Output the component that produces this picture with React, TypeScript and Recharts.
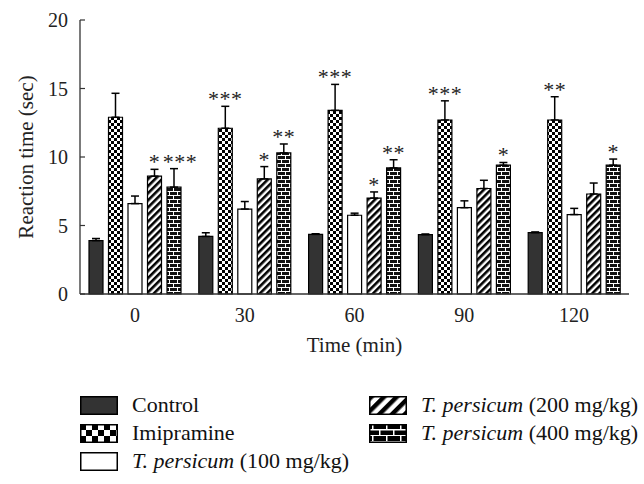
import { BarChart, Bar, XAxis, YAxis, ErrorBar, LabelList, Legend } from "recharts";

const FONT = '"Liberation Serif", "DejaVu Serif", serif';

const times = ["0", "30", "60", "90", "120"];
const control = [3.9, 4.2, 4.35, 4.33, 4.48];
const controlErr = [0.15, 0.27, 0.05, 0.05, 0.05];
const imipramine = [12.9, 12.1, 13.4, 12.7, 12.7];
const imipramineErr = [1.75, 1.6, 1.9, 1.4, 1.7];
const tp100 = [6.6, 6.2, 5.75, 6.3, 5.8];
const tp100Err = [0.55, 0.55, 0.15, 0.5, 0.45];
const tp200 = [8.6, 8.4, 7.0, 7.7, 7.3];
const tp200Err = [0.5, 0.9, 0.45, 0.6, 0.8];
const tp400 = [7.8, 10.3, 9.2, 9.4, 9.4];
const tp400Err = [1.35, 0.65, 0.6, 0.2, 0.45];
const imipramineStars = ["", "***", "***", "***", "**"];
const tp200Stars = ["*", "*", "*", "", ""];
const tp400Stars = ["***", "**", "**", "*", "*"];
const yTicks = [0, 5, 10, 15, 20];

const data = times.map((t, i) => ({
  time: t,
  control: control[i],
  controlErr: [0, controlErr[i]],
  imipramine: imipramine[i],
  imipramineErr: [0, imipramineErr[i]],
  tp100: tp100[i],
  tp100Err: [0, tp100Err[i]],
  tp200: tp200[i],
  tp200Err: [0, tp200Err[i]],
  tp400: tp400[i],
  tp400Err: [0, tp400Err[i]],
}));

// stars sit just above the error whisker; nudge right when the bar to the left is also starred
const starLabel = (vals: number[], errs: number[], stars: string[], leftStars?: string[]) => (props: any) => {
  const vb = props.viewBox || props;
  const x = vb.x ?? props.x;
  const y = vb.y ?? props.y;
  const w = vb.width ?? props.width;
  const h = vb.height ?? props.height;
  const i = props.index;
  const s = stars[i];
  if (!s) return null;
  const k = h / vals[i];
  const top = y - errs[i] * k;
  const nudge = leftStars && leftStars[i] && s.length > 2 ? 6 : 0;
  return (
    <text
      x={x + w / 2 + nudge}
      y={top}
      textAnchor="middle"
      fontFamily={FONT}
      fontSize={22}
      letterSpacing={0.5}
      fill="#222"
    >
      {s}
    </text>
  );
};

const YTick = (props: any) => {
  const { x, y, payload } = props;
  return (
    <g>
      <line x1={x + 12} x2={x + 17} y1={y} y2={y} stroke="#333" strokeWidth={1.2} />
      <text x={x} y={y} dy="0.35em" textAnchor="end" fontFamily={FONT} fontSize={20} fill="#222">
        {payload.value}
      </text>
    </g>
  );
};

const LegendIcon = ({ kind }: { kind: string }) => {
  const id = "lg-" + kind;
  let fill = "#333";
  let defs = null;
  if (kind === "imipramine") {
    fill = `url(#${id})`;
    defs = (
      <pattern id={id} width={12} height={12} patternUnits="userSpaceOnUse">
        <rect width={12} height={12} fill="#fff" />
        <rect width={6} height={6} fill="#000" />
        <rect x={6} y={6} width={6} height={6} fill="#000" />
      </pattern>
    );
  } else if (kind === "tp100") {
    fill = "#fff";
  } else if (kind === "tp200") {
    fill = `url(#${id})`;
    defs = (
      <pattern id={id} width={9} height={9} patternUnits="userSpaceOnUse" patternTransform="rotate(45)">
        <rect width={9} height={9} fill="#fff" />
        <rect width={4.5} height={9} fill="#000" />
      </pattern>
    );
  } else if (kind === "tp400") {
    fill = `url(#${id})`;
    defs = (
      <pattern id={id} width={14} height={12} patternUnits="userSpaceOnUse">
        <rect width={14} height={12} fill="#000" />
        <rect y={5} width={14} height={1.5} fill="#fff" />
        <rect y={11} width={14} height={1.5} fill="#fff" />
        <rect x={3} y={0} width={1.5} height={6} fill="#fff" />
        <rect x={10} y={6} width={1.5} height={6} fill="#fff" />
      </pattern>
    );
  }
  return (
    <svg width={38} height={19} style={{ display: "block" }}>
      {defs && <defs>{defs}</defs>}
      <rect x={0.75} y={0.75} width={36.5} height={17.5} fill={fill} stroke="#000" strokeWidth={1.5} />
    </svg>
  );
};

const Name = ({ label }: { label: string }) => {
  if (label.startsWith("T. persicum")) {
    return (
      <span>
        <i>T. persicum</i>
        {label.slice("T. persicum".length)}
      </span>
    );
  }
  return <span>{label}</span>;
};

const legendCols = [
  [
    { kind: "control", label: "Control" },
    { kind: "imipramine", label: "Imipramine" },
    { kind: "tp100", label: "T. persicum (100 mg/kg)" },
  ],
  [
    { kind: "tp200", label: "T. persicum (200 mg/kg)" },
    { kind: "tp400", label: "T. persicum (400 mg/kg)" },
  ],
];

const renderLegend = () => (
  <div style={{ position: "relative", width: 644, height: 90, fontFamily: FONT, fontSize: 22, color: "#111" }}>
    {legendCols.map((col, c) => (
      <div key={c} style={{ position: "absolute", left: c === 0 ? 80 : 369, top: 0 }}>
        {col.map((it) => (
          <div key={it.kind} style={{ display: "flex", alignItems: "center", height: 28, whiteSpace: "nowrap" }}>
            <LegendIcon kind={it.kind} />
            <div style={{ marginLeft: 14 }}>
              <Name label={it.label} />
            </div>
          </div>
        ))}
      </div>
    ))}
  </div>
);

const YLabel = (props: any) => {
  const vb = props.viewBox;
  const cx = vb.x + 33;
  const cy = vb.y + vb.height / 2;
  return (
    <text transform={`translate(${cx},${cy}) rotate(-90)`} textAnchor="middle" fontFamily={FONT} fontSize={21} fill="#222">
      Reaction time (sec)
    </text>
  );
};

export default function App() {
  return (
    <div style={{ position: "absolute", left: 0, top: 0, width: 644, height: 484, background: "#fff" }}>
      <BarChart
        width={644}
        height={484}
        data={data}
        margin={{ top: 20, right: 15, left: 0, bottom: 130 }}
        barSize={14}
        barGap={5.5}
      >
        <defs>
          <pattern id="checker" width={6} height={6} patternUnits="userSpaceOnUse">
            <rect width={6} height={6} fill="#fff" />
            <rect width={3} height={3} fill="#000" />
            <rect x={3} y={3} width={3} height={3} fill="#000" />
          </pattern>
          <pattern id="hatch" width={5} height={5} patternUnits="userSpaceOnUse" patternTransform="rotate(45)">
            <rect width={5} height={5} fill="#fff" />
            <rect width={2.6} height={5} fill="#000" />
          </pattern>
          <pattern id="brick" width={8} height={8} patternUnits="userSpaceOnUse">
            <rect width={8} height={8} fill="#111" />
            <rect y={3} width={8} height={1} fill="#fff" />
            <rect y={7} width={8} height={1} fill="#fff" />
            <rect x={1} y={0} width={1} height={4} fill="#fff" />
            <rect x={5} y={4} width={1} height={4} fill="#fff" />
          </pattern>
        </defs>
        <XAxis
          dataKey="time"
          height={60}
          tickLine={false}
          tickSize={6}
          tickMargin={8}
          axisLine={{ stroke: "#333", strokeWidth: 1.3 }}
          tick={{ fontFamily: FONT, fontSize: 20, fill: "#222" }}
          label={{ value: "Time (min)", position: "insideBottom", offset: 2, fontFamily: FONT, fontSize: 21, fill: "#222" }}
        />
        <YAxis
          width={80}
          domain={[0, 20]}
          ticks={yTicks}
          tickSize={0}
          tickMargin={12}
          tickLine={false}
          axisLine={{ stroke: "#333", strokeWidth: 1.3 }}
          tick={<YTick />}
          label={<YLabel />}
        />
        <Legend
          layout="horizontal"
          verticalAlign="middle"
          align="center"
          content={renderLegend}
          wrapperStyle={{ top: 391, left: 0, width: 644 }}
        />
        <Bar dataKey="control" fill="#333" stroke="#000" strokeWidth={1.2} isAnimationActive={false}>
          <ErrorBar dataKey="controlErr" width={4} stroke="#000" strokeWidth={1.5} />
        </Bar>
        <Bar dataKey="imipramine" fill="url(#checker)" stroke="#000" strokeWidth={1.2} isAnimationActive={false}>
          <ErrorBar dataKey="imipramineErr" width={4} stroke="#000" strokeWidth={1.5} />
          <LabelList dataKey="imipramine" content={starLabel(imipramine, imipramineErr, imipramineStars)} />
        </Bar>
        <Bar dataKey="tp100" fill="#fff" stroke="#000" strokeWidth={1.2} isAnimationActive={false}>
          <ErrorBar dataKey="tp100Err" width={4} stroke="#000" strokeWidth={1.5} />
        </Bar>
        <Bar dataKey="tp200" fill="url(#hatch)" stroke="#000" strokeWidth={1.2} isAnimationActive={false}>
          <ErrorBar dataKey="tp200Err" width={4} stroke="#000" strokeWidth={1.5} />
          <LabelList dataKey="tp200" content={starLabel(tp200, tp200Err, tp200Stars)} />
        </Bar>
        <Bar dataKey="tp400" fill="url(#brick)" stroke="#000" strokeWidth={1.2} isAnimationActive={false}>
          <ErrorBar dataKey="tp400Err" width={4} stroke="#000" strokeWidth={1.5} />
          <LabelList dataKey="tp400" content={starLabel(tp400, tp400Err, tp400Stars, tp200Stars)} />
        </Bar>
      </BarChart>
    </div>
  );
}
